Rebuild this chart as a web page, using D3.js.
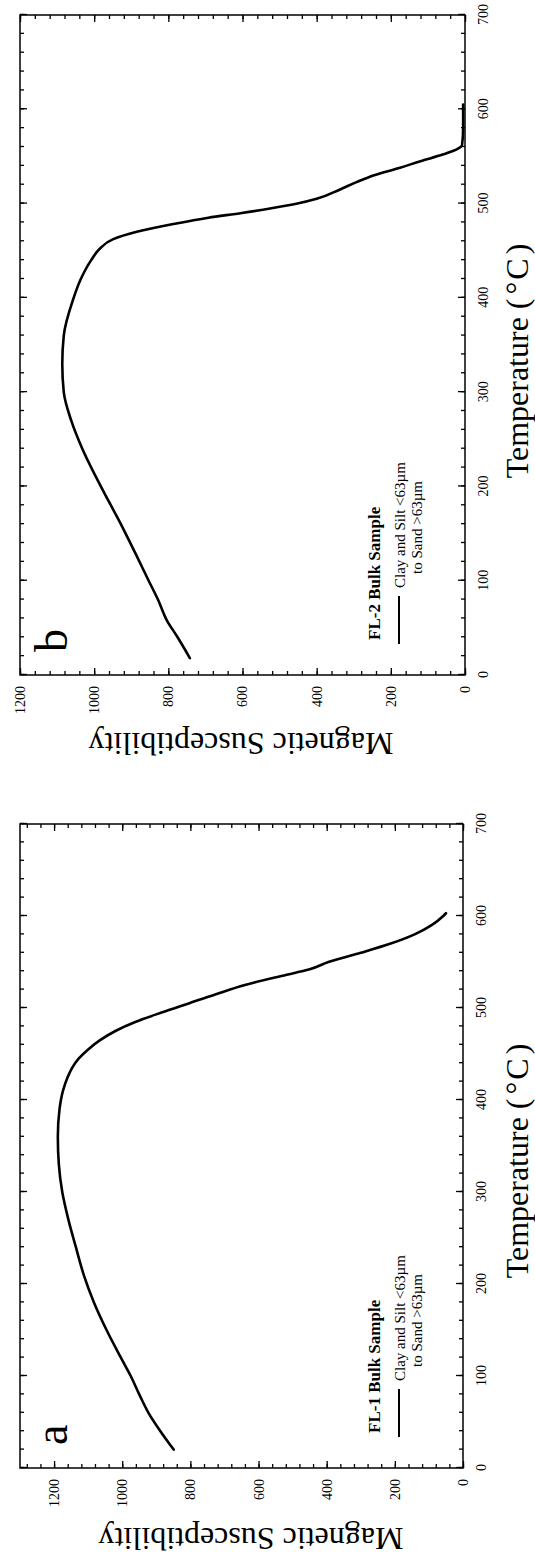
<!DOCTYPE html>
<html><head><meta charset="utf-8">
<script src="https://cdn.jsdelivr.net/npm/d3@7"></script>
<style>body{margin:0;background:#fff}svg{display:block}</style>
</head><body>
<script>
// ---- data ----
const temperatureTicks = [0,100,200,300,400,500,600,700];
const susceptibilityTicks = [0,200,400,600,800,1000,1200];
const panelLetters = ["a","b"];
const sampleNames = ["FL-1 Bulk Sample","FL-2 Bulk Sample"];
const legendLines = ["Clay and Silt <63\u00B5m","to Sand >63\u00B5m"];
const xTitleParts = ["Temperature (", "\u00B0", "C", ")"];
const yTitle = "Magnetic Susceptibility";

const fl1Temperature = [20,40,60,80,100,120,150,180,210,240,270,300,330,360,390,410,425,435,445,455,465,475,485,495,505,515,525,535,542,550,560,570,580,590,600,603];
const fl1Susceptibility = [849,888,923,950,975,1004,1046,1083,1113,1136,1158,1176,1186,1189,1184,1174,1160,1147,1128,1100,1065,1020,960,885,805,725,640,530,450,395,300,212,142,92,58,50];

const fl2Temperature = [18,40,58,80,100,130,160,200,240,270,300,330,360,398,420,440,452,462,470,478,485,490,495,500,505,515,523,530,538,545,552,558,562,580,605];
const fl2Susceptibility = [742,775,804,828,853,890,928,982,1032,1062,1082,1086,1082,1057,1036,1008,985,950,885,790,692,602,522,452,400,337,291,245,175,120,60,20,8,5,5];

// ---- layout (drawn in un-rotated figure coordinates, then rotated) ----
const W = 535, H = 1568;
const FONT = "'Liberation Serif','Times New Roman',serif";
const svg = d3.select("body").append("svg").attr("width", W).attr("height", H);
const root = svg.append("g").attr("transform", `translate(0,${H}) rotate(-90)`);

const panels = [
  {left:100, right:744, top:20, bottom:463, sMax:1300, temps:fl1Temperature, vals:fl1Susceptibility,
   letter:panelLetters[0], name:sampleNames[0], yTitleX:40, yTitleCenter:251, xTitleCenter:407, legendX:135},
  {left:893, right:1553, top:20, bottom:465, sMax:1200, temps:fl2Temperature, vals:fl2Susceptibility,
   letter:panelLetters[1], name:sampleNames[1], yTitleX:835, yTitleCenter:241, xTitleCenter:1207, legendX:928}
];

function range(a, b, s){ return d3.range(a, b + 0.001, s); }

panels.forEach(p => {
  const g = root.append("g");
  const x = d3.scaleLinear().domain([0,700]).range([p.left, p.right]);
  const y = d3.scaleLinear().domain([0,p.sMax]).range([p.bottom, p.top]);
  const minorT = range(0,700,20);
  const minorS = range(0,p.sMax,40);

  function ax(axis, tr, vals, size, pad, fmt){
    const a = g.append("g").attr("transform", tr)
      .call(axis.tickValues(vals).tickSize(size).tickPadding(pad).tickFormat(fmt));
    a.select(".domain").remove();
    a.selectAll("line").attr("stroke","#000").attr("stroke-width",1.3);
    a.selectAll("text").attr("font-family",FONT).attr("font-size",14).attr("fill","#000");
    return a;
  }
  const none = () => "";
  ax(d3.axisBottom(x), `translate(0,${p.bottom})`, temperatureTicks, -7, 13, d3.format("d"));
  ax(d3.axisBottom(x), `translate(0,${p.bottom})`, minorT, -4, 13, none);
  ax(d3.axisTop(x), `translate(0,${p.top})`, temperatureTicks, -7, 3, none);
  ax(d3.axisTop(x), `translate(0,${p.top})`, minorT, -4, 3, none);
  ax(d3.axisLeft(y), `translate(${p.left},0)`, susceptibilityTicks, -7, 11, d3.format("d"));
  ax(d3.axisLeft(y), `translate(${p.left},0)`, minorS, -4, 11, none);
  ax(d3.axisRight(y), `translate(${p.right},0)`, susceptibilityTicks, -7, 3, none);
  ax(d3.axisRight(y), `translate(${p.right},0)`, minorS, -4, 3, none);

  g.append("rect").attr("x",p.left).attr("y",p.top).attr("width",p.right-p.left).attr("height",p.bottom-p.top)
    .attr("fill","none").attr("stroke","#000").attr("stroke-width",1.5);

  const line = d3.line().x((d,i)=>x(p.temps[i])).y(d=>y(d)).curve(d3.curveMonotoneX);
  g.append("path").attr("d", line(p.vals)).attr("fill","none").attr("stroke","#000")
    .attr("stroke-width",2.6).attr("stroke-linejoin","round").attr("stroke-linecap","round");

  g.append("text").attr("x", p.left + 23).attr("y", 67).text(p.letter)
    .attr("font-family",FONT).attr("font-size",46).attr("fill","#000");

  g.append("text").attr("x", p.legendX).attr("y", 380).text(p.name)
    .attr("font-family",FONT).attr("font-weight","bold").attr("font-size",17).attr("fill","#000");
  g.append("line").attr("x1", p.legendX - 4).attr("x2", p.legendX + 44).attr("y1", 399).attr("y2", 399)
    .attr("stroke","#000").attr("stroke-width",2);
  g.append("text").attr("x", p.legendX + 52).attr("y", 405).text(legendLines[0])
    .attr("font-family",FONT).attr("font-size",15).attr("fill","#000");
  g.append("text").attr("x", p.legendX + 66).attr("y", 422).text(legendLines[1])
    .attr("font-family",FONT).attr("font-size",15).attr("fill","#000");

  g.append("text").attr("transform",`translate(${p.yTitleX},${p.yTitleCenter}) rotate(-90)`)
    .attr("text-anchor","middle").text(yTitle)
    .attr("font-family",FONT).attr("font-size",32).attr("fill","#000");
  const xt = g.append("text").attr("x", p.xTitleCenter).attr("y", 528).attr("text-anchor","middle")
    .attr("font-family",FONT).attr("font-size",32).attr("fill","#000");
  const gaps = [0, 4, 2, 4];
  xTitleParts.forEach((t,i) => xt.append("tspan").attr("dx", gaps[i]).text(t));
});
</script>
</body></html>
